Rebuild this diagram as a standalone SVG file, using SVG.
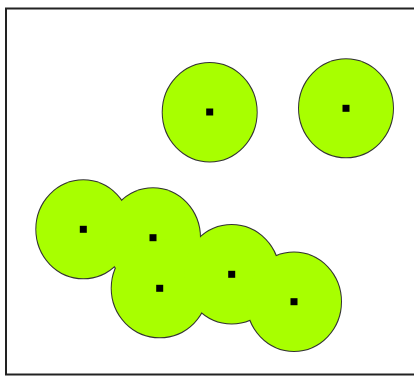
<svg xmlns="http://www.w3.org/2000/svg" width="414" height="376" viewBox="0 0 414 376">
<style>
.frame{fill:#fff;stroke:#222;stroke-width:2}
.ol{fill:none;stroke:#333;stroke-width:2}
.fl{fill:#a8ff00;stroke:none}
.pt{fill:#000}
</style>
<defs>
<ellipse id="e1" cx="209.7" cy="112.2" rx="47" ry="49.2"/>
<ellipse id="e2" cx="346" cy="108.3" rx="47" ry="49"/>
<ellipse id="e3" cx="83.3" cy="229.3" rx="47" ry="49"/>
<ellipse id="e4" cx="153" cy="237.7" rx="47" ry="49.5"/>
<ellipse id="e5" cx="159.7" cy="288.3" rx="48" ry="49"/>
<ellipse id="e6" cx="231.7" cy="274.3" rx="47.5" ry="49.2"/>
<ellipse id="e7" cx="294" cy="301.7" rx="47" ry="49.2"/>
</defs>
<rect class="frame" x="6" y="8.5" width="420" height="366"/>
<g id="buffer-outlines" class="ol">
<use href="#e1"/><use href="#e2"/><use href="#e3"/><use href="#e4"/><use href="#e5"/><use href="#e6"/><use href="#e7"/>
</g>
<g id="buffer-fills" class="fl">
<use href="#e1"/><use href="#e2"/><use href="#e3"/><use href="#e4"/><use href="#e5"/><use href="#e6"/><use href="#e7"/>
</g>
<g id="p1"><rect class="pt" x="206.2" y="108.5" width="7" height="7"/></g>
<g id="p2"><rect class="pt" x="342.5" y="104.8" width="7" height="7"/></g>
<g id="p3"><rect class="pt" x="79.8" y="225.8" width="7" height="7"/></g>
<g id="p4"><rect class="pt" x="149.5" y="234.2" width="7" height="7"/></g>
<g id="p5"><rect class="pt" x="156.2" y="284.8" width="7" height="7"/></g>
<g id="p6"><rect class="pt" x="228.2" y="270.8" width="7" height="7"/></g>
<g id="p7"><rect class="pt" x="290.5" y="298.2" width="7" height="7"/></g>
</svg>
